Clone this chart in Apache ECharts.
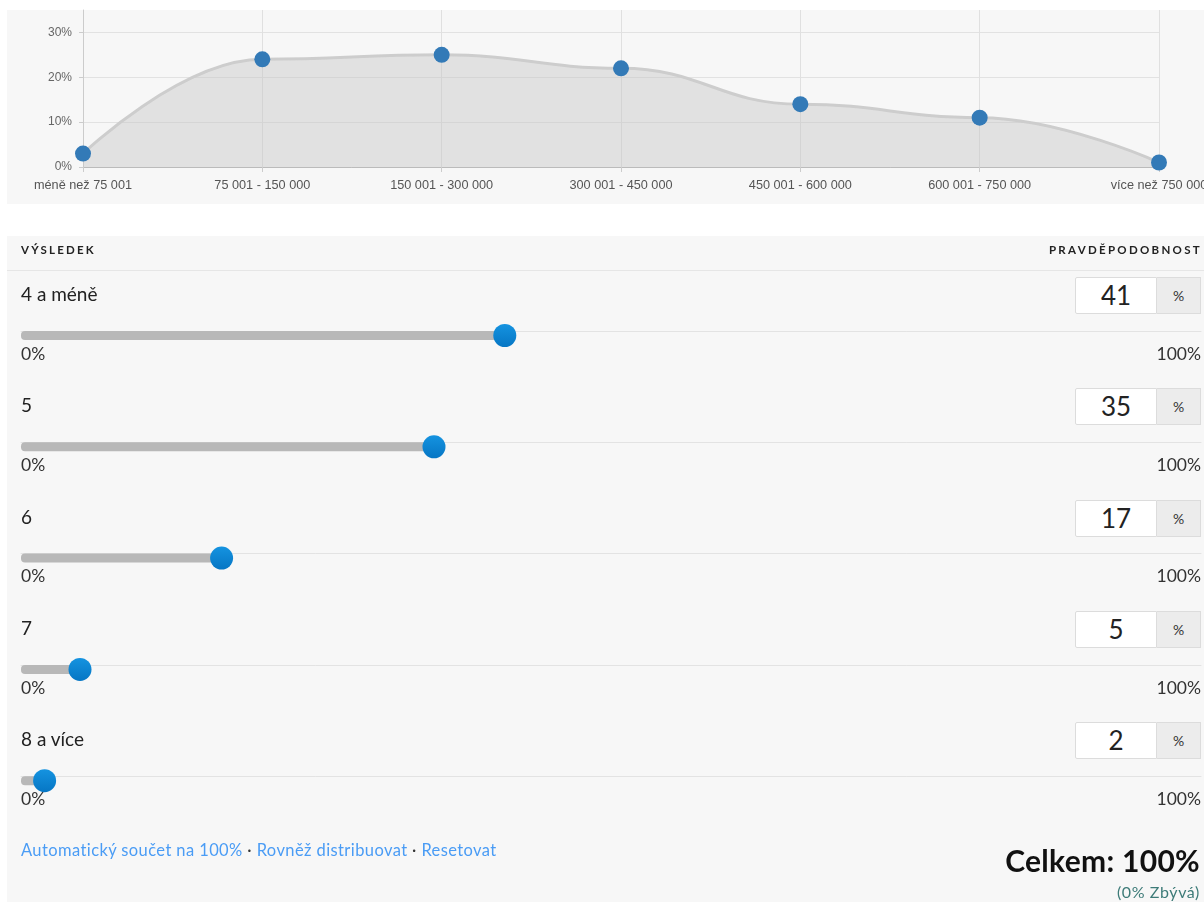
<!DOCTYPE html>
<html>
<head>
<meta charset="utf-8">
<script src="https://cdn.jsdelivr.net/npm/echarts@6/dist/echarts.min.js"></script>
<style>
body { margin: 0; width: 1204px; height: 902px; overflow: hidden; position: relative; background: #fff; font-family: Lato, "Noto Sans", sans-serif; color: #222; }
.panel { position: absolute; background: #f7f7f7; }
#chart { position: absolute; left: 0; top: 0; width: 1204px; height: 902px; z-index: 1; }
.txt { position: absolute; z-index: 2; white-space: nowrap; line-height: 1; }
.head { font-size: 11.5px; font-weight: 700; letter-spacing: 2.2px; color: #222; }
.sep { position: absolute; left: 7px; right: 0; height: 1px; background: #e6e6e6; z-index: 0; }
.label { font-size: 19px; color: #222; }
.box { position: absolute; z-index: 2; left: 1075px; width: 80px; height: 35px; background: #fff; border: 1px solid #dcdcdc; border-radius: 2px 0 0 2px;
       font-size: 26px; line-height: 35px; text-align: center; color: #222; }
.addon { position: absolute; z-index: 2; left: 1157px; width: 43px; height: 35px; background: #ececec; border: 1px solid #dcdcdc; border-left: none;
         font-size: 14px; line-height: 35px; text-align: center; color: #333; }
.links { font-size: 16.5px; letter-spacing: 0.4px; color: #4a9cf5; }
.links span.dot { color: #333; }
.total { font-size: 30px; font-weight: 700; letter-spacing: 0.3px; color: #111; right: 4px; }
.left { font-size: 16px; letter-spacing: 0.6px; color: #3d7b78; right: 4px; }
</style>
</head>
<body>
<div class="panel" style="left:7px;top:10px;width:1197px;height:194px"></div>
<div class="panel" style="left:7px;top:236px;width:1197px;height:666px"></div>
<div class="sep" style="top:270px"></div>
<div id="chart"></div>
<div id="form"></div>
<script>
// horní graf: rozložení příjmů
const incomeBands = ['méně než 75 001', '75 001 - 150 000', '150 001 - 300 000', '300 001 - 450 000', '450 001 - 600 000', '600 001 - 750 000', 'více než 750 000'];
const incomeShare = [3, 24, 25, 22, 14, 11, 1];

// posuvníky: výsledek a pravděpodobnost
const outcomeLabels = ['4 a méně', '5', '6', '7', '8 a více'];
const outcomeProb = [41, 35, 17, 5, 2];
const sliderEnds = ['0%', '100%'];

const rowStep = 111.3;

// texty formuláře
const form = document.getElementById('form');
let html = '';
html += '<div class="txt head" style="left:21px;top:244px">VÝSLEDEK</div>';
html += '<div class="txt head" style="right:2px;top:244px;letter-spacing:2.3px">PRAVDĚPODOBNOST</div>';
outcomeLabels.forEach((name, i) => {
    const y = i * rowStep;
    html += '<div class="txt label" style="left:21px;top:' + (284 + y) + 'px">' + name + '</div>';
    html += '<div class="box" style="top:' + (277 + y) + 'px">' + outcomeProb[i] + '</div>';
    html += '<div class="addon" style="top:' + (277 + y) + 'px">%</div>';
});
const total = outcomeProb.reduce((a, b) => a + b, 0);
html += '<div class="txt links" style="left:21px;top:842px">Automatický součet na 100%<span class="dot"> · </span>Rovněž distribuovat<span class="dot"> · </span>Resetovat</div>';
html += '<div class="txt total" style="top:845px">Celkem: ' + total + '%</div>';
html += '<div class="txt left" style="top:884px">(' + (100 - total) + '% Zbývá)</div>';
form.innerHTML = html;

const chart = echarts.init(document.getElementById('chart'));

const grids = [{ left: 83, right: 45, top: 10, height: 157, outerBoundsMode: 'none' }];
const xAxes = [{
    type: 'category',
    gridIndex: 0,
    data: incomeBands,
    boundaryGap: false,
    axisLine: { lineStyle: { color: '#bbb' } },
    axisTick: { show: true, length: 5, lineStyle: { color: '#ccc' } },
    splitLine: { show: true, lineStyle: { color: '#e0e0e0' } },
    axisLabel: { color: '#555', fontSize: 12.7, margin: 12, fontFamily: 'Arial, Liberation Sans, sans-serif' }
}];
const yAxes = [{
    type: 'value',
    gridIndex: 0,
    min: 0,
    max: 35,
    interval: 10,
    axisLine: { show: true, lineStyle: { color: '#ccc' } },
    axisTick: { show: true, length: 4, lineStyle: { color: '#ccc' } },
    splitLine: { show: true, showMaxLine: false, lineStyle: { color: '#e2e2e2' } },
    axisLabel: { color: '#666', fontSize: 12, margin: 11, showMaxLabel: false, formatter: '{value}%', fontFamily: 'Arial, Liberation Sans, sans-serif' }
}];
const series = [{
    type: 'line',
    xAxisIndex: 0,
    yAxisIndex: 0,
    data: incomeShare,
    smooth: 0.45,
    smoothMonotone: 'x',
    symbol: 'circle',
    symbolSize: 16,
    itemStyle: { color: '#337ab7' },
    lineStyle: { color: '#cdcdcd', width: 3 },
    areaStyle: { color: 'rgba(196,196,196,0.6)' },
    z: 3
}];

// jeden grid na každý posuvník
outcomeLabels.forEach((name, i) => {
    const g = i + 1;
    grids.push({ left: 21, right: 3, top: 331 + i * rowStep, height: 9, outerBoundsMode: 'none' });
    xAxes.push({
        type: 'value', gridIndex: g, min: 0, max: 100, interval: 100,
        axisLine: { show: false }, axisTick: { show: false }, splitLine: { show: false },
        axisLabel: {
            color: '#333', fontSize: 17.5, margin: 5, fontFamily: 'Lato, sans-serif',
            alignMinLabel: 'left', alignMaxLabel: 'right',
            formatter: v => v === 0 ? sliderEnds[0] : (v === 100 ? sliderEnds[1] : '')
        }
    });
    xAxes.push({
        type: 'value', gridIndex: g, min: 0, max: 100, position: 'top',
        axisLine: { show: true, lineStyle: { color: '#e3e3e3' } },
        axisTick: { show: false }, axisLabel: { show: false }, splitLine: { show: false }
    });
    yAxes.push({ type: 'category', gridIndex: g, data: [name], show: false });
    series.push({
        type: 'bar',
        xAxisIndex: 2 * i + 1,
        yAxisIndex: g,
        data: [outcomeProb[i]],
        barWidth: 9,
        itemStyle: { color: '#b8b8b8', borderRadius: 4 },
        silent: true
    });
    series.push({
        type: 'scatter',
        xAxisIndex: 2 * i + 1,
        yAxisIndex: g,
        data: [[outcomeProb[i], 0]],
        symbolSize: 23,
        itemStyle: {
            color: new echarts.graphic.LinearGradient(0, 0, 0, 1, [
                { offset: 0, color: '#1593e0' },
                { offset: 1, color: '#0676c4' }
            ]),
            opacity: 1
        },
        z: 5
    });
});

chart.setOption({
    animation: false,
    backgroundColor: 'transparent',
    grid: grids,
    xAxis: xAxes,
    yAxis: yAxes,
    series: series
});
</script>
</body>
</html>
